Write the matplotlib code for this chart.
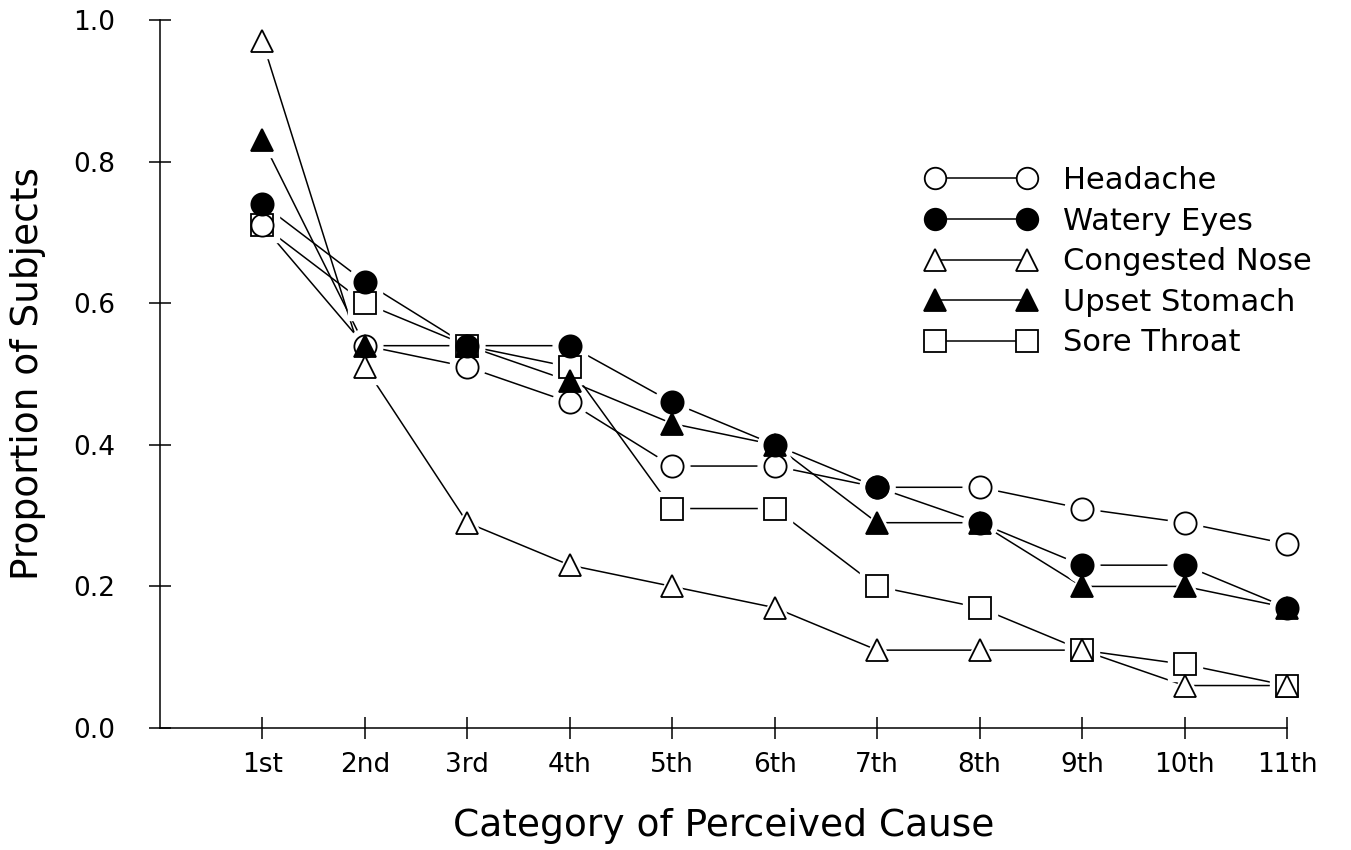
import matplotlib
matplotlib.use('Agg')
import matplotlib.pyplot as plt
from matplotlib.lines import Line2D

categories = ['1st', '2nd', '3rd', '4th', '5th', '6th', '7th', '8th', '9th', '10th', '11th']

headache = [0.71, 0.54, 0.51, 0.46, 0.37, 0.37, 0.34, 0.34, 0.31, 0.29, 0.26]
watery_eyes = [0.74, 0.63, 0.54, 0.54, 0.46, 0.40, 0.34, 0.29, 0.23, 0.23, 0.17]
congested_nose = [0.97, 0.51, 0.29, 0.23, 0.20, 0.17, 0.11, 0.11, 0.11, 0.06, 0.06]
upset_stomach = [0.83, 0.54, 0.54, 0.49, 0.43, 0.40, 0.29, 0.29, 0.20, 0.20, 0.17]
sore_throat = [0.71, 0.60, 0.54, 0.51, 0.31, 0.31, 0.20, 0.17, 0.11, 0.09, 0.06]

# drawing order (bottom to top), legend order is different
series = [
    ('Sore Throat', sore_throat, 's', 'white'),
    ('Headache', headache, 'o', 'white'),
    ('Congested Nose', congested_nose, '^', 'white'),
    ('Upset Stomach', upset_stomach, '^', 'black'),
    ('Watery Eyes', watery_eyes, 'o', 'black'),
]
legend_order = ['Headache', 'Watery Eyes', 'Congested Nose', 'Upset Stomach', 'Sore Throat']

plt.rcParams['font.family'] = ['DejaVu Sans']

fig = plt.figure(figsize=(13.51, 8.5), dpi=100)
ax = fig.add_axes([0.1184, 0.1435, 0.8342, 0.833])

x = list(range(1, len(categories) + 1))
ms = 16

for name, vals, mk, fc in series:
    ax.plot(x, vals, color='black', linewidth=1.1, zorder=1, clip_on=False)

# white halos so the lines stop short of the symbols
for name, vals, mk, fc in series:
    ax.plot(x, vals, linestyle='none', marker=mk, markersize=ms + 9,
            markerfacecolor='white', markeredgecolor='white', zorder=2, clip_on=False)

handles = {}
for name, vals, mk, fc in series:
    ax.plot(x, vals, linestyle='none', marker=mk, markersize=ms,
            markerfacecolor=fc, markeredgecolor='black', markeredgewidth=1.3, zorder=3, clip_on=False)
    handles[name] = Line2D([], [], color='black', linewidth=1.1, marker=mk, markersize=15.5,
                           markerfacecolor=fc, markeredgecolor='black', markeredgewidth=1.3)

ax.set_xlim(0, 11)
ax.set_ylim(0, 1.0)
ax.set_xticks(x)
ax.set_xticklabels(categories)
ax.set_yticks([0.0, 0.2, 0.4, 0.6, 0.8, 1.0])
ax.set_yticklabels(['0.0', '0.2', '0.4', '0.6', '0.8', '1.0'])
ax.tick_params(direction='inout', length=16, width=1.1, labelsize=19)
ax.tick_params(axis='x', pad=9)
ax.tick_params(axis='y', pad=24)

ax.spines['top'].set_visible(False)
ax.spines['right'].set_visible(False)
for s in ['left', 'bottom']:
    ax.spines[s].set_linewidth(1.1)

ax.set_xlabel('Category of Perceived Cause', fontsize=27, labelpad=22)
ax.set_ylabel('Proportion of Subjects', fontsize=27, labelpad=20)

leg = ax.legend([handles[n] for n in legend_order], legend_order,
                loc='upper left', bbox_to_anchor=(0.665, 0.837), bbox_transform=fig.transFigure,
                frameon=False, numpoints=2, handlelength=3.6, handletextpad=0.9,
                labelspacing=0.38, fontsize=22)

fig.savefig('out.png', dpi=100)
plt.close(fig)
